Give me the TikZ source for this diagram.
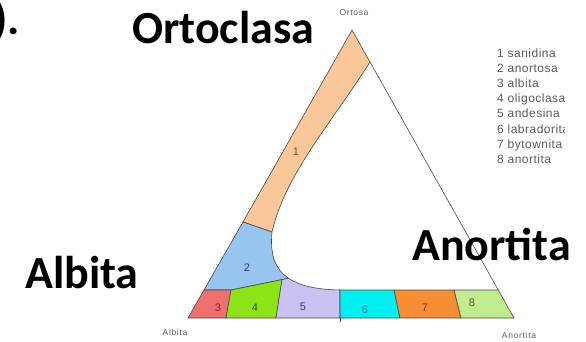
\documentclass[tikz,border=0pt]{standalone}
\usepackage{fontspec}
\setmainfont{Liberation Sans}
\newfontfamily\bigfont{Carlito}
\newfontfamily\spacedfont[LetterSpace=8]{Liberation Sans}
\newfontfamily\legendfont[LetterSpace=4]{Liberation Sans}
\definecolor{cone}{RGB}{250,200,152}
\definecolor{ctwo}{RGB}{152,196,240}
\definecolor{cthree}{RGB}{240,112,112}
\definecolor{cfour}{RGB}{140,228,24}
\definecolor{cfive}{RGB}{204,194,242}
\definecolor{csix}{RGB}{0,240,240}
\definecolor{cseven}{RGB}{246,142,52}
\definecolor{ceight}{RGB}{192,236,142}
\definecolor{linegray}{RGB}{70,70,70}
\definecolor{txtgray}{RGB}{90,90,90}
\begin{document}
\begin{tikzpicture}[x=1pt,y=-1pt,
  region/.style={draw=linegray, line width=0.6pt, line join=round},
  edge/.style={draw=linegray, line width=0.6pt},
  num/.style={font=\fontsize{11}{11}\selectfont, inner sep=0pt},
  biglabel/.style={font=\bigfont\bfseries\fontsize{46}{46}\selectfont, inner sep=0pt, anchor=base west},
  smalllabel/.style={font=\spacedfont\fontsize{8.5}{8.5}\selectfont, text=txtgray, inner sep=0pt},
  legend/.style={font=\legendfont\fontsize{12}{12}\selectfont, text=txtgray, inner sep=0pt, anchor=base west}]
\useasboundingbox (0,0) rectangle (586,341);
% regions
\filldraw[region, fill=cone] (352,30) -- (370,62) .. controls (330,125) and (285,175) .. (272,232) -- (243,222) -- cycle;
\filldraw[region, fill=ctwo] (243,222) -- (272,232) .. controls (269.8,254) and (274.86,269.04) .. (288.5,278.3) -- (231,290) -- (204,290) -- cycle;
\filldraw[region, fill=cthree] (204,290) -- (231,290) -- (226,318) -- (188,318) -- cycle;
\filldraw[region, fill=cfour] (231,290) -- (282,279.6) -- (276,318) -- (226,318) -- cycle;
\filldraw[region, fill=cfive] (282,279.6) -- (288.5,278.3) .. controls (299.68,285.86) and (316.6,289.55) .. (340,290) -- (340,318) -- (276,318) -- cycle;
\filldraw[region, fill=csix] (340,290) -- (394,290) -- (400,318) -- (340,318) -- cycle;
\filldraw[region, fill=cseven] (394,290) -- (454,290) -- (461,318) -- (400,318) -- cycle;
\filldraw[region, fill=ceight] (454,290) -- (498.25,290) -- (514,318) -- (461,318) -- cycle;
\draw[edge] (370,62) -- (498.25,290);
\draw[edge] (340,318) -- (340,322);
% region numbers
\node[num, text={rgb,255:red,120;green,80;blue,40}] (n1) at (296,152) {1};
\node[num, text={rgb,255:red,40;green,60;blue,140}] (n2) at (247,268) {2};
\node[num, text={rgb,255:red,150;green,30;blue,30}] (n3) at (218,308) {3};
\node[num, text={rgb,255:red,40;green,90;blue,20}] (n4) at (255,308) {4};
\node[num, text={rgb,255:red,70;green,50;blue,130}] (n5) at (303,307) {5};
\node[num, text={rgb,255:red,40;green,120;blue,160}] (n6) at (365,310) {6};
\node[num, text={rgb,255:red,120;green,60;blue,20}] (n7) at (425,308) {7};
\node[num, text={rgb,255:red,80;green,100;blue,60}] (n8) at (472,303) {8};
% vertex labels
\node[smalllabel] (lo) at (354,13) {Ortosa};
\node[smalllabel] (la) at (175,332) {Albita};
\node[smalllabel] (ln) at (519,335) {Anortita};
% big labels
\node[biglabel] (bo) at (132,43) {Ortoclasa};
\node[biglabel] (ba) at (25,288) {Albita};
\node[biglabel] (bn) at (412,260) {Anortita};
\node[biglabel] (bp) at (-7,34) {).};
% legend
\begin{scope}
\clip (480,40) rectangle (564,170);
\node[legend] (g1) at (497,57.0) {1 sanidina};
\node[legend] (g2) at (497,72.2) {2 anortosa};
\node[legend] (g3) at (497,87.4) {3 albita};
\node[legend] (g4) at (497,102.6) {4 oligoclasa};
\node[legend] (g5) at (497,117.8) {5 andesina};
\node[legend] (g6) at (497,133.0) {6 labradorita};
\node[legend] (g7) at (497,148.2) {7 bytownita};
\node[legend] (g8) at (497,163.4) {8 anortita};
\end{scope}
\end{tikzpicture}
\end{document}
